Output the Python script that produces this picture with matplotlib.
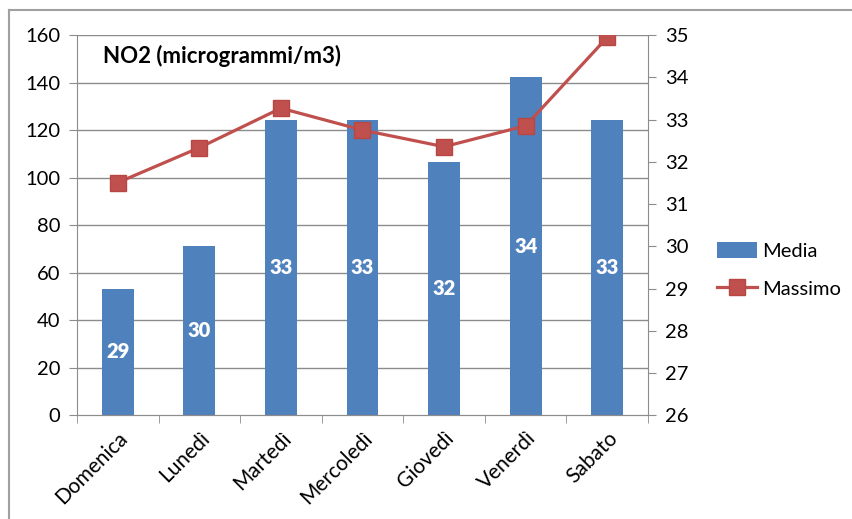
import matplotlib
matplotlib.use("Agg")
import matplotlib.pyplot as plt
from matplotlib.lines import Line2D
from matplotlib.patches import Patch
import numpy as np

plt.rcParams['font.family'] = ['Lato', 'DejaVu Sans']

giorni = ["Domenica", "Lunedì", "Martedì", "Mercoledì", "Giovedì", "Venerdì", "Sabato"]
media = [29, 30, 33, 33, 32, 34, 33]
massimo = [97.9, 112.6, 129.2, 120.0, 113.0, 121.8, 159.0]
left_ticks = [0, 20, 40, 60, 80, 100, 120, 140, 160]
right_ticks = [26, 27, 28, 29, 30, 31, 32, 33, 34, 35]
titolo = "NO2 (microgrammi/m3)"

bar_color = "#4F81BD"
line_color = "#C0504D"
grid_color = "#8C8C8C"

fig = plt.figure(figsize=(8.53, 5.19), dpi=100)
ax = fig.add_axes([77/853, 1-415.3/519, (648-77)/853, (415.3-35)/519])
ax2 = ax.twinx()

x = np.arange(len(giorni))

# bars on right axis
ax2.bar(x, [m - 26 for m in media], bottom=26, width=0.39, color=bar_color, zorder=2)
ax2.set_ylim(26, 35)
ax2.set_yticks(right_ticks)
for xi, m in zip(x, media):
    ax2.text(xi, 26 + (m - 26) / 2, f"{m:.0f}", ha="center", va="center",
             color="white", fontsize=14.5, fontweight="heavy", zorder=3)

# line on left axis, drawn on top
ax.set_zorder(ax2.get_zorder() + 1)
ax.patch.set_visible(False)
ax.plot(x, massimo, color=line_color, linewidth=2.3, marker="s", markersize=11,
        markerfacecolor=line_color, markeredgecolor="#B84744", zorder=4)
ax.set_ylim(0, 160)
ax.set_yticks(left_ticks)
ax.set_xlim(-0.5, len(giorni) - 0.5)

for t in left_ticks[1:]:
    yv = 26 + t / 160 * 9
    ax2.axhline(yv, color=grid_color, linewidth=1.0, zorder=1)

ax.set_xticks(x)
ax.set_xticklabels(giorni, rotation=45, ha="right", rotation_mode="anchor", fontsize=15)
ax.set_xticks(np.arange(-0.5, len(giorni)), minor=True)
ax.tick_params(axis="x", which="major", length=0, pad=9)
ax.tick_params(axis="x", which="minor", length=6, color=grid_color, direction="out")
ax.tick_params(axis="y", length=6, color=grid_color, labelsize=14.5, pad=6)
ax2.tick_params(axis="y", length=6, color=grid_color, labelsize=14.5, pad=6)
ax2.tick_params(axis="x", length=0)

for a in (ax, ax2):
    a.spines["top"].set_visible(False)
    a.spines["left"].set_color(grid_color)
    a.spines["right"].set_color(grid_color)
    a.spines["bottom"].set_color(grid_color)
ax.spines["right"].set_visible(False)
ax2.spines["left"].set_visible(False)

ax.text(0.045, 0.945, titolo, transform=ax.transAxes, fontsize=16, fontweight="bold",
        ha="left", va="center", color="black")

handles = [Patch(facecolor=bar_color, edgecolor="none"),
           Line2D([0], [0], color=line_color, linewidth=2.3, marker="s", markersize=11,
                  markerfacecolor=line_color, markeredgecolor="#B84744")]
fig.legend(handles, ["Media", "Massimo"], loc="center left",
           bbox_to_anchor=(699/853, 1-270/519), frameon=False, fontsize=14.5,
           handlelength=2.0, handleheight=0.8, labelspacing=1.0, handletextpad=0.25)

# outer border (top and left visible)
fig.add_artist(Line2D([9/853, 1], [1-10/519, 1-10/519], color="#A0A0A0", linewidth=1.5,
                      transform=fig.transFigure))
fig.add_artist(Line2D([9/853, 9/853], [0, 1-10/519], color="#A0A0A0", linewidth=1.5,
                      transform=fig.transFigure))

fig.savefig("out.png", dpi=100)
